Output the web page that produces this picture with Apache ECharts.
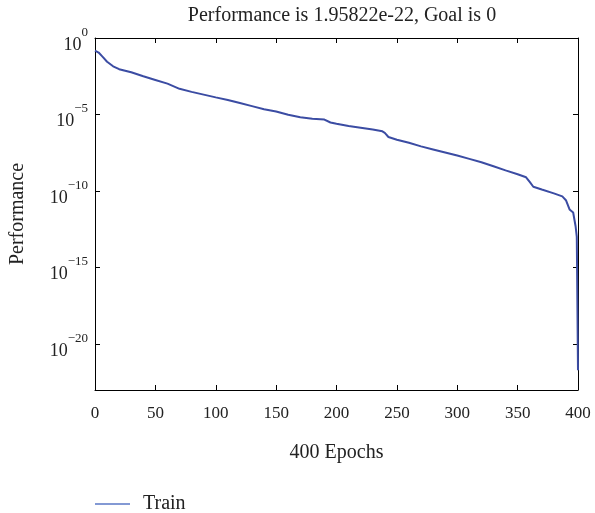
<!DOCTYPE html>
<html>
<head>
<meta charset="utf-8">
<script src="https://cdn.jsdelivr.net/npm/echarts@6/dist/echarts.min.js"></script>
<style>
  html, body { margin: 0; padding: 0; background: #fff; }
  #eChart { width: 595px; height: 513px; }
</style>
</head>
<body>
<div id="eChart"></div>
<script>
// epochs and training performance, stored as log10(performance)
var epochs = [0, 3, 6, 10, 15, 20, 30, 40, 50, 60, 70, 80, 90, 100, 110, 120, 130, 140, 150, 160,
  170, 180, 190, 195, 200, 210, 220, 230, 238, 240, 243, 250, 260, 270, 280, 290, 300, 310, 320,
  330, 340, 350, 357, 360, 363, 370, 380, 387, 390, 393, 396, 398, 399, 400];
var perfLog = [-0.83, -0.95, -1.2, -1.55, -1.85, -2.04, -2.24, -2.5, -2.74, -2.98, -3.32, -3.52,
  -3.7, -3.88, -4.05, -4.25, -4.45, -4.65, -4.8, -5.02, -5.18, -5.27, -5.33, -5.52, -5.6, -5.75,
  -5.86, -5.98, -6.1, -6.2, -6.47, -6.65, -6.85, -7.08, -7.28, -7.48, -7.68, -7.9, -8.12, -8.38,
  -8.65, -8.9, -9.1, -9.4, -9.72, -9.9, -10.15, -10.35, -10.6, -11.2, -11.4, -12.3, -13.0, -21.71];
var yTicks = [0, -5, -10, -15, -20];

var font = 'Liberation Serif';
var chart = echarts.init(document.getElementById('eChart'));

var data = [];
for (var i = 0; i < epochs.length; i++) {
  data.push([epochs[i], perfLog[i]]);
}

// 10^n label, the h token only makes the line tall enough to lift the exponent
function expLabel(v) {
  var n = Math.round(v);
  return '{h|\u200b}{b|10}{s|' + (n < 0 ? '\u2212' + (-n) : n) + '}';
}

var tickStyle = { show: true, inside: true, length: 5, lineStyle: { color: '#000', width: 1 } };
var lineStyle = { show: true, onZero: false, lineStyle: { color: '#000', width: 1 } };

var option = {
  animation: false,
  title: {
    text: 'Performance is 1.95822e-22, Goal is 0',
    left: 337,
    textAlign: 'center',
    top: 1,
    textStyle: { fontFamily: font, fontSize: 20, fontWeight: 'normal', color: '#222' }
  },
  legend: {
    data: ['Train'],
    left: 90,
    top: 489,
    icon: 'rect',
    itemWidth: 35,
    itemHeight: 1.5,
    itemStyle: { color: '#5a77c6' },
    textStyle: { fontFamily: font, fontSize: 20, color: '#222', padding: [0, 0, 0, 8] }
  },
  grid: { left: 95, right: 17, top: 38, bottom: 123, outerBoundsMode: 'none' },
  xAxis: [{
    type: 'value',
    min: 0,
    max: 400,
    interval: 50,
    name: '400 Epochs',
    nameLocation: 'middle',
    nameGap: 53,
    nameTextStyle: { fontFamily: font, fontSize: 20, color: '#222' },
    axisLine: lineStyle,
    axisTick: tickStyle,
    splitLine: { show: false },
    axisLabel: { fontFamily: font, fontSize: 17, color: '#222', margin: 15 }
  }, {
    type: 'value',
    position: 'top',
    min: 0,
    max: 400,
    interval: 50,
    axisLine: lineStyle,
    axisTick: tickStyle,
    splitLine: { show: false },
    axisLabel: { show: false }
  }],
  yAxis: [{
    type: 'value',
    min: -23,
    max: 0,
    name: 'Performance',
    nameLocation: 'middle',
    nameGap: 67,
    nameTextStyle: { fontFamily: font, fontSize: 20, color: '#222' },
    axisLine: lineStyle,
    axisTick: Object.assign({ customValues: yTicks }, tickStyle),
    splitLine: { show: false },
    axisLabel: {
      customValues: yTicks,
      formatter: expLabel,
      margin: 7,
      padding: [4, 0, 0, 0],
      rich: {
        h: { fontSize: 1, lineHeight: 28 },
        b: { fontFamily: font, fontSize: 18, color: '#222', lineHeight: 20, verticalAlign: 'bottom' },
        s: { fontFamily: font, fontSize: 13, color: '#222', lineHeight: 14, verticalAlign: 'top' }
      }
    }
  }, {
    type: 'value',
    position: 'right',
    min: -23,
    max: 0,
    axisLine: lineStyle,
    axisTick: Object.assign({ customValues: yTicks }, tickStyle),
    splitLine: { show: false },
    axisLabel: { show: false }
  }],
  series: [{
    name: 'Train',
    type: 'line',
    xAxisIndex: 0,
    yAxisIndex: 0,
    showSymbol: false,
    data: data,
    lineStyle: { color: '#3b4ca3', width: 2 },
    itemStyle: { color: '#3b4ca3' }
  }]
};
chart.setOption(option);
</script>
</body>
</html>
